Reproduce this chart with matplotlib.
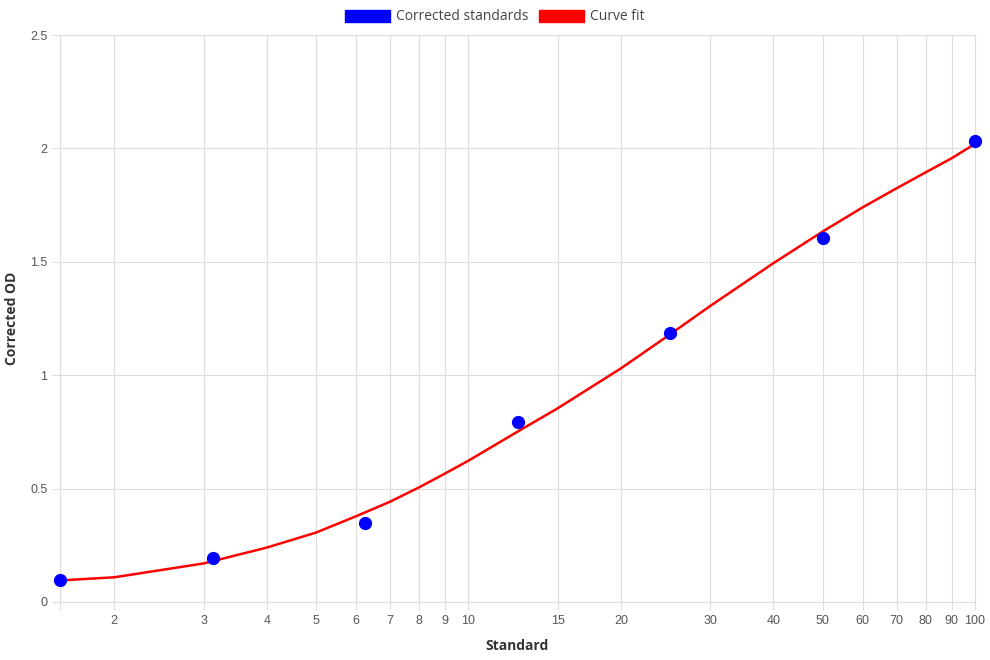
import matplotlib.pyplot as plt
from matplotlib.patches import Patch

# corrected standards (points)
std_x = [1.5625, 3.125, 6.25, 12.5, 25, 50, 100]
std_y = [0.095, 0.195, 0.348, 0.795, 1.185, 1.605, 2.033]

# curve fit
fit_x = [1.5625, 2, 3, 4, 5, 6, 7, 8, 9, 10, 12.5, 15, 20, 25, 30, 40, 50, 60, 70, 80, 90, 100]
fit_y = [0.095, 0.109, 0.170, 0.240, 0.306, 0.378, 0.442, 0.506, 0.567, 0.623, 0.751, 0.854,
         1.030, 1.180, 1.305, 1.494, 1.633, 1.740, 1.824, 1.895, 1.957, 2.020]

xticks = [1.5625, 2, 3, 4, 5, 6, 7, 8, 9, 10, 15, 20, 30, 40, 50, 60, 70, 80, 90, 100]
xlabels = [''] + ['2', '3', '4', '5', '6', '7', '8', '9', '10', '15', '20', '30', '40', '50',
                  '60', '70', '80', '90', '100']
yticks = [0, 0.5, 1, 1.5, 2, 2.5]
ylabels = ['0', '0.5', '1', '1.5', '2', '2.5']

grid_c = '#dddddd'
tick_c = '#555555'

fig = plt.figure(figsize=(9.9, 6.6), dpi=100)
ax = fig.add_axes([60/990, 1-602/660, 915/990, 567/660])

ax.plot(fit_x, fit_y, color='#ff0000', lw=1.8, zorder=3, clip_on=False)
ax.plot(std_x, std_y, 'o', color='#0000ff', ms=8.5, zorder=4, clip_on=False)

ax.set_xscale('log')
ax.set_xlim(1.5625, 100)
ax.set_ylim(0, 2.5)
ax.set_xticks(xticks)
ax.set_xticklabels(xlabels, fontfamily='Liberation Sans', fontsize=9, color=tick_c)
ax.minorticks_off()
ax.set_yticks(yticks)
ax.set_yticklabels(ylabels, fontfamily='Liberation Sans', fontsize=9, color=tick_c)
ax.tick_params(axis='both', length=6, color=grid_c, width=0.8, pad=3)
ax.grid(True, color=grid_c, lw=0.8)
ax.set_axisbelow(True)
for s in ax.spines.values():
    s.set_color(grid_c)
    s.set_linewidth(0.8)

ax.set_xlabel('Standard', fontfamily='Open Sans', fontweight='bold', fontsize=10, color='#333333', labelpad=9)
ax.set_ylabel('Corrected OD', fontfamily='Open Sans', fontweight='bold', fontsize=10, color='#333333', labelpad=8)

handles = [Patch(facecolor='#0000ff', edgecolor='#0000ff'), Patch(facecolor='#ff0000', edgecolor='#ff0000')]
fig.legend(handles, ['Corrected standards', 'Curve fit'], loc='center', bbox_to_anchor=(0.5, 1-17/660),
           ncol=2, frameon=False, handlelength=3.2, handleheight=1.0, handletextpad=0.45,
           columnspacing=0.8, prop={'family': 'Open Sans', 'size': 10}, labelcolor='#444444')

fig.savefig('out.png', dpi=100)
